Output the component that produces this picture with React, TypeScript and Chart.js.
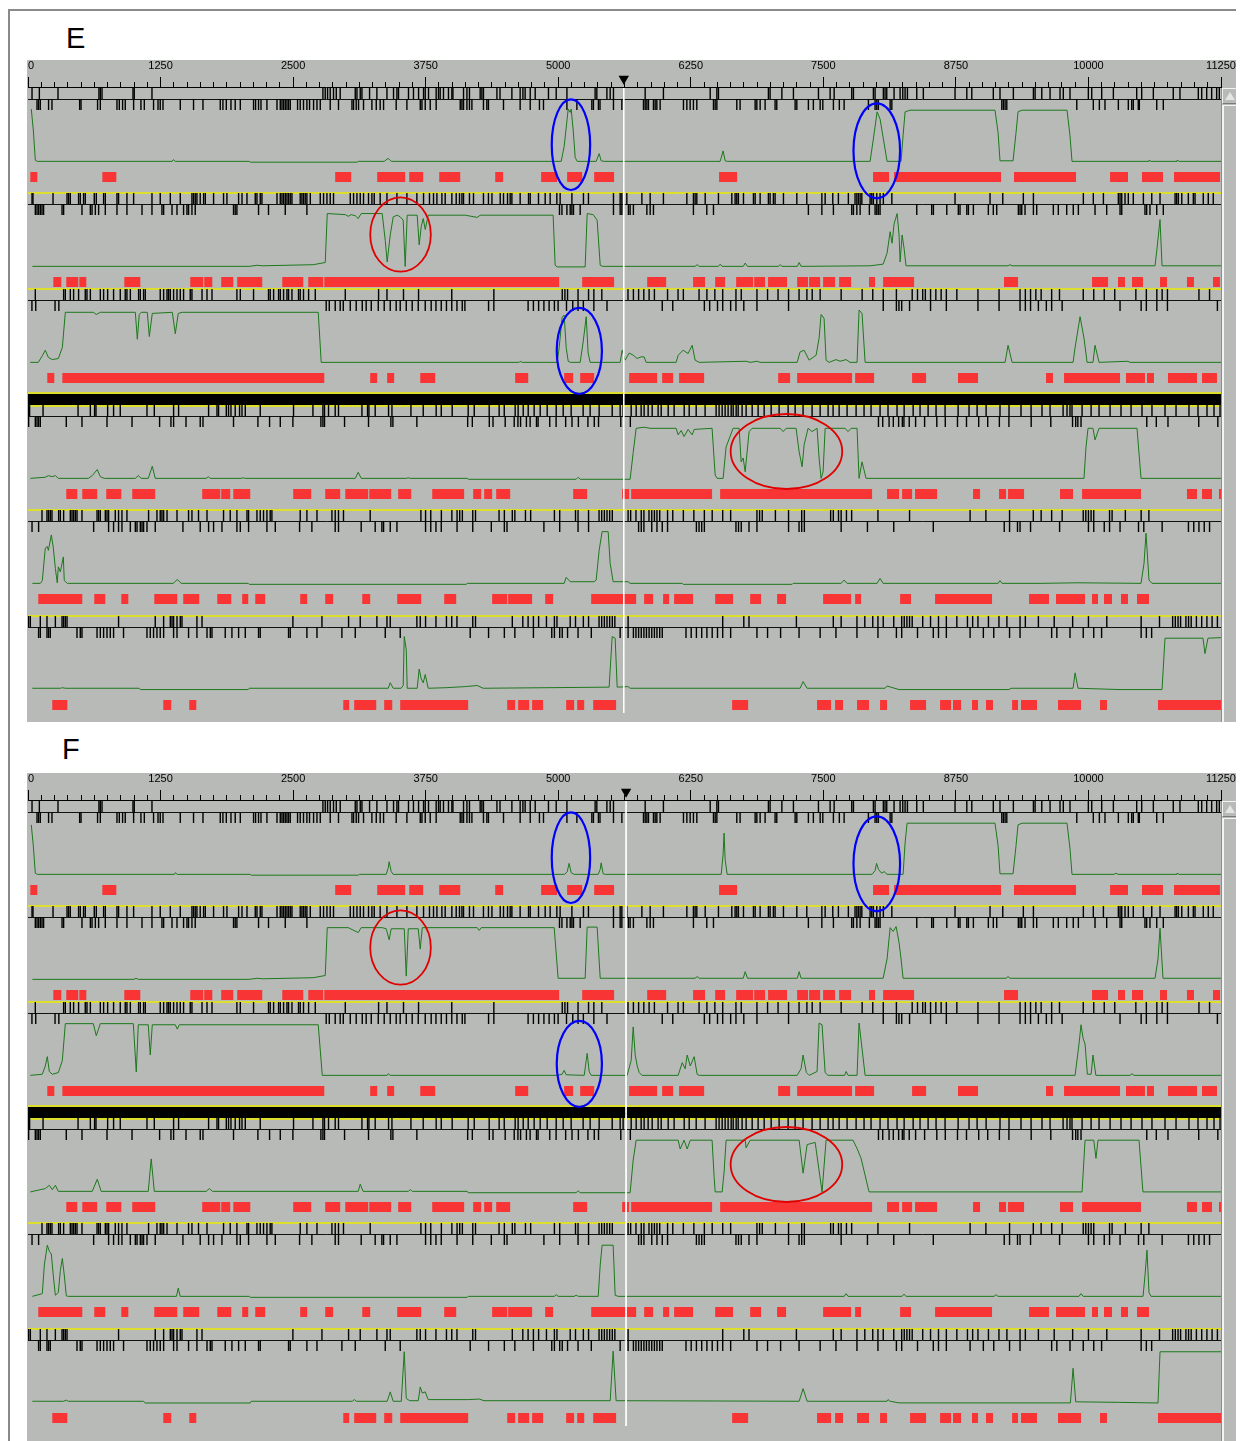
import React, { useEffect, useRef } from 'react';
import { Chart, registerables } from 'chart.js';

Chart.register(...registerables);

// ---------------- data (bp coordinates) ----------------
const RULER_LABELS = [0, 1250, 2500, 3750, 5000, 6250, 7500, 8750, 10000, 11250];
const GENOME_END = 11250;
const CURSOR_E = 5618;
const CURSOR_F = 5640;

// stop codons: two frame rows per track
const T1_STOPS_A = [38,107,283,669,682,698,990,1002,1169,2781,2803,2825,2850,2881,2907,2944,3086,3102,3133,3149,3221,3290,3385,3447,3479,3494,3588,3635,3683,3730,3746,3777,3849,3871,3887,3918,3965,3997,4007,4107,4139,4163,4264,4280,4295,4422,4451,4563,4641,4667,4688,4736,4783,4908,4981,5082,5348,5364,5459,5490,5521,5820,5992,6433,6496,6511,6982,6998,7109,7218,7454,7564,7602,7768,7784,7972,7988,8066,8082,8098,8167,8224,8249,8271,8293,8381,8443,8742,8853,8900,9103,9166,9292,9481,9497,9560,9638,9732,9763,9826,9999,10031,10125,10235,10455,10502,10612,10800,10863,11036,11068,11115,11162,11209,11234];
const T1_STOPS_B = [85,100,116,194,226,487,500,656,682,839,861,892,917,996,1065,1097,1184,1226,1247,1273,1436,1561,1650,1813,1838,1870,1914,1954,2002,2127,2146,2174,2197,2253,2348,2379,2395,2410,2426,2442,2457,2473,2542,2567,2598,2630,2655,2693,2725,2756,2850,2928,3055,3070,3095,3117,3164,3243,3284,3321,3353,3472,3573,3699,3715,3746,3793,3849,4076,4092,4107,4139,4163,4186,4295,4327,4342,4484,4641,4736,4823,4861,5082,5176,5317,5332,5379,5394,5521,5600,5804,5820,5836,5851,5898,5914,5930,5961,6181,6213,6244,6275,6307,6464,6480,6496,6684,6715,6857,6873,6904,6951,7045,7061,7234,7250,7359,7406,7470,7495,7595,7651,7696,7925,7988,8004,8019,8130,8146,9183,9198,9214,9230,9890,10046,10103,10156,10282,10376,10408,10423,10470,10480,10644,10706];
const T2_STOPS_A = [38,47,236,368,383,399,477,493,524,540,625,644,713,729,839,854,933,996,1169,1247,1342,1436,1546,1561,1577,1593,1624,1656,1672,1750,1844,1876,1986,2018,2065,2143,2159,2190,2206,2348,2379,2395,2410,2426,2442,2457,2473,2489,2567,2583,2598,2614,2630,2662,2756,2787,2819,2850,2881,3039,3070,3102,3133,3164,3211,3243,3265,3321,3385,3479,3573,3667,3730,3786,3824,3856,3903,3934,3997,4038,4069,4092,4107,4163,4201,4295,4342,4375,4453,4484,4522,4547,4563,4641,4720,4736,4814,4877,4924,4987,5018,5129,5238,5285,5521,5584,5600,5647,5789,5867,5992,6213,6275,6291,6307,6386,6511,6637,6668,6684,6699,6747,6841,6857,6904,6982,6998,7029,7045,7124,7250,7344,7486,7517,7589,7642,7736,7799,7816,7831,7847,7863,7941,7957,7972,8004,8035,8066,8146,8742,9072,9192,9386,9481,9952,10046,10141,10282,10298,10314,10345,10376,10423,10518,10597,10675,10817,10832,10848,10880,10942,10989,11005,11083,11130,11177];
const T2_STOPS_B = [69,85,100,116,132,147,321,336,509,588,604,635,666,729,839,933,1075,1169,1263,1279,1358,1405,1467,1499,1514,1546,1577,1938,1954,1970,2174,2268,2426,2630,5012,5035,5082,5113,5129,5144,5207,5521,5584,5600,5662,5678,5709,5836,5867,5898,6275,6401,6464,7359,7486,7595,7768,7784,7816,7847,7934,7988,8004,8019,8035,8381,8522,8538,8664,8773,8789,8853,8868,8915,9056,9103,9135,9339,9355,9371,9402,9481,9512,9669,9716,9795,9857,9905,10062,10172,10298,10314,10533,10549,10580,10644,10706];
const T3_STOPS_A = [69,336,352,399,430,477,540,556,588,682,713,751,807,870,917,933,965,1043,1059,1090,1106,1247,1279,1311,1326,1342,1373,1405,1436,1467,1530,1546,1641,1688,1735,1970,2002,2127,2268,2284,2316,2363,2379,2410,2442,2457,2489,2551,2567,2598,2646,2709,2992,3306,3385,3541,3683,3996,4393,5038,5063,5088,5187,5286,5336,5411,5658,5709,5758,5807,5857,5907,6031,6130,6180,6328,6402,6477,6551,6676,6726,6874,6974,7073,7172,7271,7345,7395,7470,7668,7866,7966,8065,8189,8338,8388,8437,8462,8511,8561,8611,8660,8759,8958,9157,9355,9405,9454,9504,9554,9653,9727,9951,10050,10149,10248,10447,10546,10645,10695,10745,11042,11142];
const T3_STOPS_B = [37,73,255,291,2812,2841,2897,2944,2973,3039,3095,3152,3189,3237,3303,3359,3416,3472,3510,3567,3623,3680,3746,3802,3847,3897,3946,3996,4045,4095,4120,4343,4393,4716,4766,4815,4865,4914,4964,4999,5078,5137,5187,5237,5336,5460,5981,6080,6378,6428,6502,6551,6626,6676,6750,6874,7172,8065,8189,8213,8239,8313,8511,8660,8958,9157,9355,9405,9454,9528,9603,9653,9752,10298,10497,10546,10645,10745,11216];
const T4_STOPS_A = [6,15,142,472,588,628,641,751,807,870,1122,1191,1373,1420,1703,1782,1797,1870,1891,1914,1954,1995,2018,2049,2190,2504,2687,2781,2796,2834,2897,2928,3149,3202,3215,3274,3400,3432,3611,3727,3849,3897,4000,4151,4208,4349,4443,4491,4594,4622,4670,4717,4773,4830,4896,4981,5047,5122,5235,5301,5386,5509,5584,5612,5688,5735,5782,5810,5848,5886,5942,5971,6037,6093,6188,6235,6301,6385,6489,6517,6546,6574,6602,6631,6650,6678,6697,6734,6772,6829,6885,6942,7008,7083,7168,7234,7309,7394,7470,7545,7592,7649,7724,7809,7884,7950,8035,8110,8195,8262,8347,8412,8488,8563,8648,8771,8874,8950,9035,9166,9251,9364,9459,9562,9638,9761,9798,9826,9845,9940,10025,10100,10204,10307,10402,10505,10599,10722,10826,10948,11033,11118,11184,11241];
const T4_STOPS_B = [6,69,85,100,116,361,509,745,981,1241,1348,1373,1490,1624,1650,1938,2168,2278,2379,2498,2762,2781,2796,2985,3211,3422,3441,3667,4146,4190,4350,4385,4500,4585,4620,4645,4700,4735,4795,4810,4920,4980,5070,5130,5190,5280,5340,5380,5590,5680,8020,8060,8120,8160,8210,8245,8260,8310,8370,8455,8570,8650,8765,8850,8965,9050,9160,9250,9460,9645,9850,9880,9900,9930,10550,10640,10750,11040,11220];
const T5_STOPS_A = [132,179,194,210,226,289,305,336,399,415,430,446,462,509,651,666,682,729,745,760,823,854,886,933,1137,1216,1247,1263,1279,1311,1405,1514,1546,1608,1688,1844,1907,1970,2065,2080,2159,2190,2221,2253,2284,2300,2567,2630,2725,2866,2897,2928,2975,3227,3705,3749,3798,3898,3997,4046,4071,4096,4194,4220,4442,4492,4567,4591,4691,4740,4964,5014,5163,5187,5286,5385,5410,5435,5460,5485,5510,5659,5683,5733,5783,5808,5856,5882,5907,5931,5957,6031,6080,6180,6279,6378,6452,6551,6626,6874,6899,6924,7048,7172,7296,7321,7569,7594,7643,7668,7718,7767,8015,8313,8884,9033,9256,9480,9554,9653,9752,9951,9975,10000,10025,10050,10199,10223,10348,10497,10570];
const T5_STOPS_B = [38,100,619,760,807,854,886,965,1012,1028,1059,1075,1090,1122,1200,1461,1624,1703,1750,1829,1970,2002,2080,2253,2332,2561,2677,2897,2928,3142,3274,3337,3353,3416,3479,3749,3798,3847,3897,4046,4194,4369,4492,4517,4865,5014,5187,5286,5758,5783,5808,5882,5931,5981,6031,6303,6328,6353,6378,6676,6700,6726,6799,6874,7172,7271,7296,7321,7668,7916,8164,8537,9206,9256,9331,9355,9454,9728,10000,10050,10149,10199,10298,10472,10522,10695,10943,10993,11042,11092,11142];
const T6_STOPS_A = [6,22,116,179,258,321,336,352,368,854,1200,1279,1342,1358,1373,1405,1436,1452,1593,1641,2498,2772,3023,3133,3290,3385,3416,3667,3699,3749,3847,3946,3996,4045,4194,4220,4567,4666,4716,4766,4815,4889,4964,4988,5113,5163,5237,5286,5385,5410,5435,5460,5485,5510,5534,5659,6551,6750,6799,7246,7594,7668,7817,7891,7966,8015,8065,8164,8239,8263,8288,8313,8338,8437,8511,8586,8660,8759,8859,8908,8958,9057,9156,9231,9355,9405,9528,9677,9851,10000,10173,10497,10670,10794,10819,10845,10869,10919,10944,10969,11018,11068,11117,11166,11216];
const T6_STOPS_B = [100,116,179,194,210,462,493,509,651,682,713,745,776,807,901,1122,1153,1184,1216,1247,1279,1373,1405,1514,1593,1688,1719,1735,1860,1923,1986,2049,2174,2190,2457,2473,2630,2725,2960,3086,3369,3510,4170,4343,4492,4591,4766,4939,4964,5014,5038,5088,5187,5312,5584,5659,5709,5733,5758,5783,5808,5832,5857,5882,5907,5931,5957,5981,6205,6254,6303,6353,6402,6452,6502,6551,6626,6874,6974,7097,7271,7470,7619,7817,8015,8189,8239,8388,8537,8586,8660,8884,9009,9107,9256,9355,9653,9702,9826,9951,10050,10124,10497,10546,10596];

// open reading frames (start, end)
const T1_ORFS = [[22,88],[701,833],[2897,3048],[3293,3557],[3595,3727],[3878,4076],[4406,4481],[4839,4990],[5084,5226],[5339,5527],[6517,6687],[7969,8120],[8167,9176],[9298,9883],[10204,10373],[10505,10703],[10807,11241]];
const T2_ORFS = [[239,314],[361,474],[484,550],[908,1059],[1530,1653],[1662,1738],[1822,1936],[1973,2209],[2398,2596],[2643,2784],[2794,5009],[5226,5527],[5839,6018],[6272,6385],[6480,6574],[6678,6838],[6848,6951],[6979,7158],[7253,7356],[7366,7470],[7498,7611],[7649,7762],[7931,7988],[8064,8356],[9204,9336],[10034,10185],[10279,10345],[10411,10515],[10675,10741],[10929,10995],[11175,11241]];
const T3_ORFS = [[182,248],[324,2794],[3227,3293],[3387,3453],[3699,3840],[4594,4717],[5056,5141],[5207,5339],[5669,5933],[5980,6084],[6140,6376],[7074,7187],[7253,7771],[7800,7979],[8337,8469],[8770,8959],[9600,9666],[9770,10298],[10354,10533],[10552,10618],[10750,11024],[11071,11212]];
const T4_ORFS = [[361,465],[512,653],[738,880],[983,1200],[1643,1813],[1822,1907],[1936,2096],[2501,2671],[2803,2944],[2992,3208],[3218,3425],[3491,3614],[3812,4113],[4198,4274],[4302,4377],[4415,4547],[5141,5273],[5603,5669],[5688,6451],[6527,7960],[8101,8214],[8243,8337],[8365,8573],[8912,8978],[9157,9223],[9242,9393],[9732,9855],[9940,10496],[10929,11024],[11071,11165],[11231,11250]];
const T5_ORFS = [[97,512],[625,729],[880,946],[1191,1408],[1464,1615],[1785,1917],[2020,2077],[2143,2237],[2567,2633],[2803,2878],[3152,3227],[3482,3708],[3925,4038],[4377,4519],[4528,4754],[4877,4952],[5311,5735],[5810,5895],[5989,6046],[6093,6272],[6480,6649],[6810,6913],[7064,7149],[7498,7762],[7800,7856],[8224,8327],[8554,9091],[9440,9628],[9694,9968],[10034,10090],[10147,10222],[10307,10373],[10458,10571]];
const T6_ORFS = [[229,371],[1276,1351],[1521,1587],[2973,3029],[3076,3284],[3359,3435],[3510,4151],[4519,4594],[4622,4726],[4754,4858],[5075,5150],[5179,5245],[5330,5546],[6640,6791],[7441,7573],[7611,7686],[7818,7931],[8035,8101],[8318,8469],[8601,8705],[8723,8799],[8902,8959],[9034,9100],[9280,9336],[9364,9515],[9713,9930],[10109,10175],[10656,11250]];

// green plot values (position bp, score 0-100), panel E
const E_T1_SIGNAL = [[31,98],[50,60],[69,5],[88,3],[1360,3],[1370,6],[1389,3],[2086,3],[2096,1.5],[3104,1.5],[3114,3],[3359,3],[3397,8.5],[3425,3],[5028,3],[5056,30],[5084,80],[5094,98],[5113,92],[5122,98],[5141,60],[5160,10],[5179,3],[5358,3],[5386,17],[5405,4],[5433,3],[6527,3],[6555,22],[6574,4],[6593,3],[7941,3],[7969,40],[8007,93],[8035,80],[8101,3],[8233,3],[8252,50],[8271,93],[8318,96],[9119,96],[9148,55],[9166,4],[9289,4],[9317,55],[9336,93],[9374,96],[9798,96],[9826,50],[9845,3],[10562,3],[10571,5],[10590,3],[10826,3],[10835,5],[10855,3],[11250,3]];
const E_T2_SIGNAL = [[41,3],[2086,3],[2162,5],[2209,4],[2690,6],[2803,10],[2822,99],[2992,97],[3020,94],[3048,97],[3086,95],[3114,90],[3142,99],[3340,99],[3369,50],[3387,11],[3416,60],[3444,93],[3482,96],[3510,93],[3538,87],[3557,3],[3576,96],[3670,96],[3689,42],[3708,75],[3727,90],[3746,70],[3774,96],[4123,96],[4236,92],[4264,96],[4952,96],[4971,5],[4990,2],[5254,2],[5273,99],[5330,97],[5367,87],[5396,5],[5420,3],[6290,3],[6310,6],[6330,3],[6510,3],[6527,7],[6545,3],[6745,3],[6763,9],[6785,3],[7075,3],[7093,6],[7110,3],[7255,3],[7272,10],[7290,3],[7941,4],[8064,7],[8101,27],[8130,66],[8148,45],[8167,80],[8196,99],[8214,60],[8224,11],[8243,60],[8261,36],[8280,4],[9242,4],[9261,6],[9280,4],[10628,4],[10647,36],[10675,88],[10694,4],[11250,4]];
const E_T3_SIGNAL = [[22,3],[97,3],[135,15],[163,25],[192,12],[229,8],[286,10],[324,30],[352,94],[616,94],[644,90],[682,94],[1012,94],[1031,45],[1049,90],[1068,94],[1125,94],[1144,50],[1172,92],[1361,94],[1389,55],[1417,92],[1455,94],[2737,94],[2765,3],[4632,3],[4641,5],[4660,3],[4990,3],[5009,30],[5037,85],[5056,89],[5075,30],[5094,5],[5113,3],[5207,3],[5235,40],[5264,86],[5282,20],[5301,3],[5584,3],[5603,25],[5631,7],[5669,20],[5707,16],[5744,10],[5782,13],[5810,13],[5829,3],[6112,3],[6131,16],[6178,25],[6225,19],[6263,34],[6291,7],[6329,3],[6772,5],[6810,3],[6876,5],[6904,3],[7253,3],[7281,22],[7319,25],[7366,7],[7432,16],[7460,47],[7479,90],[7507,83],[7526,7],[7554,3],[7620,8],[7658,5],[7715,8],[7752,3],[7818,3],[7837,98],[7865,92],[7894,3],[9214,3],[9242,34],[9280,3],[9855,3],[9874,30],[9921,86],[9958,47],[9987,3],[10043,3],[10062,34],[10100,3],[10373,5],[10392,3],[11250,3]];
const E_T4_SIGNAL = [[22,3],[163,5],[192,8],[229,6],[258,8],[286,3],[569,3],[606,8],[653,19],[682,6],[719,3],[1012,3],[1040,8],[1068,3],[1134,3],[1172,25],[1200,3],[1681,3],[1700,6],[1719,3],[2011,3],[2030,4],[2049,3],[3086,3],[3114,14],[3142,3],[3567,3],[3586,4],[3604,3],[4142,3],[4151,1.3],[5169,1.3],[5188,5],[5207,1.3],[5678,1.3],[5707,50],[5735,94],[5810,96],[5867,94],[6112,94],[6131,82],[6159,90],[6187,79],[6225,92],[6263,82],[6282,92],[6451,94],[6480,9],[6499,3],[6555,3],[6583,60],[6649,94],[6706,94],[6725,33],[6744,40],[6763,15],[6800,88],[6828,94],[7093,94],[7121,88],[7149,94],[7243,94],[7272,51],[7300,24],[7319,64],[7356,94],[7394,88],[7441,94],[7460,40],[7479,3],[7498,15],[7517,94],[7705,94],[7733,88],[7762,94],[7818,94],[7837,3],[7865,33],[7903,3],[9958,3],[9977,60],[9996,94],[10043,94],[10062,73],[10100,94],[10458,94],[10496,3],[11250,3]];
const E_T5_SIGNAL = [[41,3],[116,3],[135,8],[163,67],[182,70],[192,63],[220,91],[239,67],[258,30],[276,4],[286,33],[305,24],[333,51],[342,8],[371,3],[1370,3],[1408,10],[1445,3],[2077,3],[2086,1.2],[4132,1.2],[4142,3],[5056,3],[5075,14],[5113,6],[5339,6],[5358,9],[5386,63],[5414,97],[5471,97],[5490,39],[5518,6],[5659,6],[5678,3],[6169,3],[6178,1.2],[7206,1.2],[7215,3],[7668,3],[7696,9],[7724,3],[8007,3],[8035,12],[8064,3],[8412,3],[9148,3],[9166,8],[9185,3],[9553,3],[9902,4],[10496,3],[10524,39],[10543,94],[10571,9],[10599,3],[11250,3]];
const E_T6_SIGNAL = [[41,5],[305,5],[324,6],[352,5],[1049,5],[1059,2.6],[2077,2.6],[2086,5],[3397,5],[3416,15],[3444,5],[3519,5],[3538,10],[3548,99],[3567,75],[3576,5],[3670,5],[3689,40],[3708,22],[3727,15],[3746,30],[3774,5],[3944,6],[4123,8],[4236,10],[4292,5],[5480,7],[5509,99],[5537,96],[5556,7],[5659,8],[5678,5],[7281,5],[7309,17],[7347,5],[8082,5],[8101,9],[8214,2.6],[9251,2.6],[9270,5],[9855,5],[9874,33],[9902,5],[10298,2.6],[10694,2.6],[10722,96],[11080,96],[11099,68],[11127,96],[11250,97]];

// green plot values, panel F
const F_T1_SIGNAL = [[31,93],[50,55],[69,5],[88,3],[1380,3],[1389,6],[1408,3],[2096,3],[2105,1.5],[3114,1.5],[3124,3],[3378,3],[3396,14],[3406,26],[3425,8],[3444,3],[5060,3],[5085,8],[5103,23],[5122,6],[5150,3],[5377,3],[5396,12],[5405,24],[5424,4],[5443,3],[6537,3],[6555,40],[6564,78],[6574,30],[6593,3],[7960,3],[7988,10],[8002,23],[8020,12],[8050,5],[8073,8],[8101,3],[8252,3],[8271,60],[8290,96],[9119,96],[9148,55],[9166,4],[9289,4],[9317,55],[9336,93],[9374,96],[9798,96],[9826,50],[9845,3],[10240,3],[10258,5],[10280,3],[10826,3],[10835,5],[10855,3],[11250,3]];
const F_T2_SIGNAL = [[41,3],[1000,3],[1018,5],[1040,3],[2086,3],[2162,5],[2209,4],[2690,6],[2803,10],[2822,97],[3020,97],[3114,88],[3142,97],[3340,97],[3378,95],[3406,75],[3425,95],[3548,95],[3567,9],[3586,95],[3680,95],[3699,58],[3718,97],[4236,97],[4255,92],[4274,97],[4962,97],[4999,5],[5254,5],[5273,98],[5367,98],[5396,5],[6290,5],[6310,8],[6330,5],[6745,5],[6763,17],[6785,5],[7255,5],[7272,17],[7290,5],[8064,5],[8101,40],[8130,97],[8158,90],[8186,99],[8214,70],[8233,40],[8252,5],[9223,5],[9242,8],[9261,5],[10628,5],[10656,40],[10675,96],[10703,5],[11250,5]];
const F_T3_SIGNAL = [[22,3],[135,5],[163,20],[182,37],[201,10],[229,5],[286,8],[324,30],[352,97],[616,97],[644,75],[682,97],[993,97],[1021,9],[1040,95],[1134,95],[1153,40],[1172,95],[1389,95],[1408,87],[1427,95],[2737,95],[2775,3],[3387,3],[3397,6],[3416,3],[4990,3],[5037,5],[5056,12],[5075,4],[5245,3],[5264,30],[5273,43],[5292,10],[5311,3],[5650,3],[5688,30],[5707,91],[5726,40],[5745,20],[5764,8],[5790,3],[6131,3],[6169,26],[6197,15],[6216,40],[6245,20],[6282,37],[6310,5],[6329,3],[7253,3],[7290,15],[7309,40],[7340,8],[7366,3],[7441,10],[7460,98],[7488,95],[7517,8],[7545,3],[7700,3],[7715,10],[7733,3],[7818,3],[7837,98],[7860,60],[7894,3],[9874,3],[9911,60],[9930,95],[9950,70],[9968,60],[9990,5],[10025,5],[10043,40],[10070,3],[10392,3],[10410,6],[10430,3],[11250,3]];
const F_T4_SIGNAL = [[22,2],[163,8],[201,14],[229,6],[258,14],[286,3],[606,3],[653,25],[690,3],[1134,3],[1162,62],[1191,3],[1681,3],[1710,8],[1740,3],[3114,3],[3133,16],[3160,3],[3586,3],[3605,6],[3625,3],[4142,3],[4151,0.5],[5169,0.5],[5188,4],[5207,0.5],[5678,0.5],[5707,60],[5735,96],[6131,96],[6150,80],[6187,96],[6216,80],[6245,96],[6451,96],[6470,30],[6480,2],[6546,2],[6565,40],[6583,96],[6763,96],[6772,82],[6810,96],[7272,96],[7309,36],[7347,88],[7423,92],[7488,2],[7526,96],[7780,96],[7820,80],[7856,63],[7931,2],[9940,2],[9968,96],[10050,96],[10071,63],[10090,96],[10477,96],[10514,2],[11250,2]];
const F_T5_SIGNAL = [[41,3],[135,8],[154,60],[182,96],[201,85],[220,80],[239,40],[258,5],[286,10],[305,50],[324,72],[343,40],[361,4],[380,3],[1400,3],[1417,18],[1435,3],[2086,3],[2096,1.2],[4142,1.2],[4151,3],[4962,3],[4981,6],[5000,3],[5150,3],[5169,5],[5190,3],[5377,3],[5396,60],[5414,96],[5518,96],[5537,5],[5565,3],[7696,3],[7715,8],[7733,3],[8242,3],[8261,7],[8280,3],[9110,3],[9129,6],[9148,3],[9911,3],[9930,8],[9950,3],[10515,3],[10533,40],[10552,87],[10571,10],[10590,3],[11250,3]];
const F_T6_SIGNAL = [[41,5],[336,5],[361,7],[380,5],[1087,5],[1106,1.8],[2096,1.8],[2105,5],[3058,5],[3077,8],[3096,5],[3387,5],[3416,22],[3444,5],[3520,5],[3548,95],[3567,10],[3600,6],[3680,6],[3699,31],[3718,20],[3746,22],[3774,8],[4151,8],[4255,9],[4300,6],[5490,6],[5518,96],[5546,6],[7272,5],[7309,28],[7347,5],[8100,5],[8110,8],[8130,5],[8214,2],[9830,2],[9855,65],[9880,4],[10290,3],[10656,1.8],[10675,95],[11250,95]];

// ellipse highlights: centre (bp, px below ruler), radii in px
const RINGS = [
  { x: 5120, y: 57.7, rx: 19.2, ry: 45.3, color: '#0000ff', w: 2.2 },
  { x: 8004, y: 63.8, rx: 23.3, ry: 47.5, color: '#0000ff', w: 2.2 },
  { x: 3513, y: 147.5, rx: 30.3, ry: 37.2, color: '#e00000', w: 1.8 },
  { x: 5199, y: 263.8, rx: 22.6, ry: 43, color: '#0000ff', w: 2.2 },
  { x: 7152, y: 364.5, rx: 55.8, ry: 37.5, color: '#e00000', w: 1.8 },
];

// ---------------- layout / styles ----------------
const GREY = '#b7bab6';
const GREEN = '#1d781d';
const ORF_RED = '#f83434';
const YELLOW = '#ebeb00';
const RULER_H = 27;
const TRACK_TOPS = [1, 106, 202, 318, 423, 529];
const YELLOW_YS = [106, 202, 306, 319, 423, 529];
const STRAND_Y = 312.5;
const CURSOR_BOTTOM = 626;

const TRACKS = [
  { a: T1_STOPS_A, b: T1_STOPS_B, orfs: T1_ORFS },
  { a: T2_STOPS_A, b: T2_STOPS_B, orfs: T2_ORFS },
  { a: T3_STOPS_A, b: T3_STOPS_B, orfs: T3_ORFS },
  { a: T4_STOPS_A, b: T4_STOPS_B, orfs: T4_ORFS },
  { a: T5_STOPS_A, b: T5_STOPS_B, orfs: T5_ORFS },
  { a: T6_STOPS_A, b: T6_STOPS_B, orfs: T6_ORFS },
];

const E_SIGNALS = [E_T1_SIGNAL, E_T2_SIGNAL, E_T3_SIGNAL, E_T4_SIGNAL, E_T5_SIGNAL, E_T6_SIGNAL];
const F_SIGNALS = [F_T1_SIGNAL, F_T2_SIGNAL, F_T3_SIGNAL, F_T4_SIGNAL, F_T5_SIGNAL, F_T6_SIGNAL];

function hLines(ys: number[]) {
  const out: any[] = [];
  ys.forEach((y) => {
    out.push({ x: 0, y }, { x: GENOME_END, y }, { x: GENOME_END, y: null });
  });
  return out;
}

function buildDatasets(signals: number[][][], cursor: number) {
  const ds: any[] = [];
  const lineBase = { showLine: true, pointRadius: 0, fill: false, tension: 0, spanGaps: false };
  ds.push({ ...lineBase, data: [{ x: cursor, y: 1 }, { x: cursor, y: CURSOR_BOTTOM }], borderColor: '#ffffff', borderWidth: 1, order: 0 });
  TRACKS.forEach((t, i) => {
    const top = TRACK_TOPS[i];
    ds.push({ ...lineBase, data: signals[i].map(([x, v]) => ({ x, y: top + 75 - 0.55 * v })), borderColor: GREEN, borderWidth: 1, order: 1 });
    ds.push({ data: t.a.map((x) => ({ x, y: top + 5.5 })), pointStyle: 'line', pointRotation: 90, pointRadius: 5.5, pointBorderColor: '#000', pointBorderWidth: 1.4, order: 2 });
    ds.push({ data: t.b.map((x) => ({ x, y: top + 16.5 })), pointStyle: 'line', pointRotation: 90, pointRadius: 5.5, pointBorderColor: '#000', pointBorderWidth: 1.4, order: 2 });
    const orf: any[] = [];
    t.orfs.forEach(([s, e]) => orf.push({ x: s, y: top + 89 }, { x: e, y: top + 89 }, { x: e, y: null }));
    ds.push({ ...lineBase, data: orf, borderColor: ORF_RED, borderWidth: 10, borderCapStyle: 'butt', order: 3 });
  });
  ds.push({ ...lineBase, data: hLines(TRACK_TOPS.map((t) => t + 11.5)), borderColor: '#111', borderWidth: 1, order: 4 });
  ds.push({ ...lineBase, data: hLines(YELLOW_YS), borderColor: YELLOW, borderWidth: 1.6, order: 5 });
  ds.push({ ...lineBase, data: hLines([STRAND_Y]), borderColor: '#000', borderWidth: 11, borderCapStyle: 'butt', order: 6 });
  return ds;
}

// draws the cursor marker on the ruler and the highlight ellipses
function overlayPlugin(cursor: number) {
  return {
    id: 'overlay',
    afterDatasetsDraw(chart: any) {
      const { ctx, scales } = chart;
      ctx.save();
      const cx = scales.x.getPixelForValue(cursor);
      const tipY = scales.y.getPixelForValue(0) - 2.3;
      ctx.beginPath();
      ctx.moveTo(cx - 5.2, tipY - 9);
      ctx.lineTo(cx + 5.2, tipY - 9);
      ctx.lineTo(cx, tipY);
      ctx.closePath();
      ctx.fillStyle = '#000';
      ctx.fill();
      RINGS.forEach((r) => {
        ctx.beginPath();
        ctx.ellipse(scales.x.getPixelForValue(r.x), scales.y.getPixelForValue(r.y), r.rx, r.ry, 0, 0, Math.PI * 2);
        ctx.strokeStyle = r.color;
        ctx.lineWidth = r.w;
        ctx.stroke();
      });
      ctx.restore();
    },
  };
}

function makeChart(canvas: HTMLCanvasElement, signals: number[][][], cursor: number) {
  const H = canvas.height - RULER_H;
  return new Chart(canvas, {
    type: 'scatter',
    data: { datasets: buildDatasets(signals, cursor) },
    options: {
      responsive: false,
      animation: false,
      devicePixelRatio: 1,
      events: [],
      layout: { autoPadding: false, padding: { left: 1, right: 16, top: 0, bottom: 0 } },
      plugins: { legend: { display: false }, tooltip: { enabled: false } },
      scales: {
        x: {
          type: 'linear',
          position: 'top',
          min: 0,
          max: GENOME_END,
          afterFit: (s: any) => { s.height = RULER_H; s.paddingLeft = 0; s.paddingRight = 0; },
          ticks: {
            stepSize: 125,
            maxTicksLimit: 1000,
            autoSkip: false,
            maxRotation: 0,
            minRotation: 0,
            padding: 4,
            color: '#000',
            font: { family: 'Liberation Sans', size: 11 },
            callback: (v: any) => (RULER_LABELS.includes(v) ? (v === 0 ? '  0' : String(v)) : ''),
          },
          grid: {
            drawOnChartArea: false,
            tickLength: 10,
            tickColor: '#000',
            tickWidth: 1,
            tickBorderDash: (c: any) => (c.tick && RULER_LABELS.includes(c.tick.value) ? [] : [0, 5, 5, 0]),
          },
          border: { display: true, color: '#000', width: 1 },
        },
        y: { type: 'linear', min: 0, max: H, reverse: true, display: false },
      },
    } as any,
    plugins: [overlayPlugin(cursor)],
  });
}

function ScrollBar({ top, height }: { top: number; height: number }) {
  return (
    <div style={{ position: 'absolute', left: 1213, top, width: 16, height, background: GREY, borderLeft: '1px solid #8c8c8c', boxSizing: 'border-box' }}>
      <div style={{ position: 'absolute', left: 0, top: 0, width: 15, height: 16, boxSizing: 'border-box', borderTop: '1px solid #f2f2f2', borderLeft: '1px solid #f2f2f2', borderRight: '1px solid #7a7a7a', borderBottom: '1px solid #7a7a7a' }}>
        <div style={{ width: 0, height: 0, margin: '3px auto 0', borderLeft: '5px solid transparent', borderRight: '5px solid transparent', borderBottom: '8px solid #e4e4e4' }} />
      </div>
      <div style={{ position: 'absolute', left: 0, top: 17, width: 15, bottom: 0, boxSizing: 'border-box', borderTop: '1px solid #f4f4f4', borderLeft: '2px solid #f4f4f4', borderRight: '1px solid #7a7a7a' }} />
    </div>
  );
}

export default function App() {
  const eRef = useRef<HTMLCanvasElement>(null);
  const fRef = useRef<HTMLCanvasElement>(null);
  useEffect(() => {
    const charts = [makeChart(eRef.current!, E_SIGNALS, CURSOR_E), makeChart(fRef.current!, F_SIGNALS, CURSOR_F)];
    return () => charts.forEach((c) => c.destroy());
  }, []);
  const label: React.CSSProperties = { position: 'absolute', fontFamily: 'Liberation Sans, Arial, sans-serif', fontSize: 29, lineHeight: '29px', color: '#000' };
  return (
    <div style={{ position: 'relative', width: 1236, height: 1433, background: '#fff' }}>
      <div style={{ position: 'absolute', left: 0, top: 1, right: 0, bottom: -8, borderLeft: '2px solid #8a8a8a', borderTop: '2px solid #8a8a8a' }} />
      <div style={{ ...label, left: 58, top: 15.6 }}>E</div>
      <div style={{ ...label, left: 54, top: 726.5 }}>F</div>
      <canvas ref={eRef} width={1210} height={662} style={{ position: 'absolute', left: 19, top: 52, background: GREY }} />
      <canvas ref={fRef} width={1210} height={668} style={{ position: 'absolute', left: 19, top: 765, background: GREY }} />
      <ScrollBar top={80} height={634} />
      <ScrollBar top={793} height={640} />
    </div>
  );
}
